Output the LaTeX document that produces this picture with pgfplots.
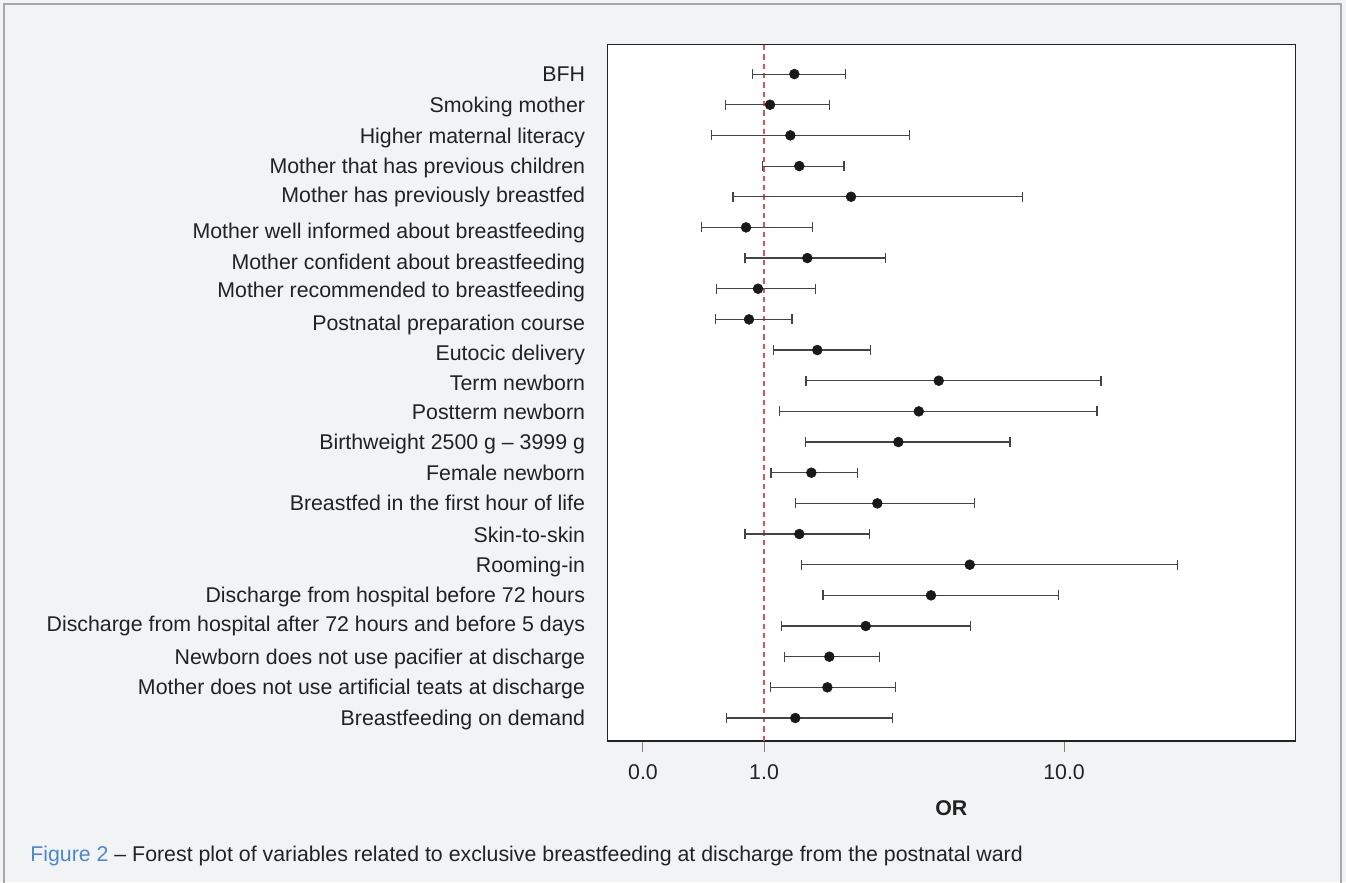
\documentclass[border=0pt]{standalone}
\usepackage{pgfplots}
\pgfplotsset{compat=1.18}
\usepackage{pgfplotstable}
\usepackage{fontspec}
\setmainfont{Liberation Sans}
\definecolor{panel}{HTML}{F2F3F5}
\definecolor{panelborder}{HTML}{A8A8A8}
\definecolor{txt}{HTML}{222222}
\definecolor{capblue}{HTML}{4A89CF}
\definecolor{refred}{HTML}{D9555A}
\definecolor{barcol}{HTML}{444444}
\newcommand{\fs}{\fontsize{16}{19}\selectfont}

\pgfplotstableread{
y    or     lo     hi
22   1.262  0.914  1.866
21   1.047  0.743  1.656
20   1.224  0.666  3.05
19   1.311  0.985  1.848
18   1.950  0.788  7.26
17   0.871  0.617  1.449
16   1.394  0.864  2.545
15   0.955  0.692  1.483
14   0.891  0.687  1.240
13   1.505  1.077  2.268
12   3.823  1.380  13.28
11   3.280  1.128  12.88
10   2.804  1.377  6.607
9    1.438  1.055  2.046
8    2.386  1.271  5.040
7    1.311  0.864  2.244
6    4.850  1.336  23.86
5    3.603  1.573  9.60
4    2.183  1.142  4.873
3    1.651  1.169  2.431
2    1.626  1.053  2.748
1    1.271  0.751  2.685
}\ortable

\begin{document}
\begin{tikzpicture}
\begin{scope}[x=0.75pt,y=-0.75pt]
\useasboundingbox (0,0) rectangle (1346,882);
\fill[panel] (0,0) rectangle (1346,882);
\draw[panelborder, line width=1.2pt] (4,4) rectangle (1341,895);
\node[anchor=base west, inner sep=0pt, font=\fs, text=txt] at (30,861.7)
  {\textcolor{capblue}{Figure 2} – Forest plot of variables related to exclusive breastfeeding at discharge from the postnatal ward};
\end{scope}
\begin{axis}[
  at={(455.475pt,-555.75pt)}, anchor=south west,
  scale only axis, width=516pt, height=522.5pt,
  xmode=log, xmin=0.3003, xmax=59.0,
  ymin=0.25, ymax=22.97,
  axis background/.style={fill=white},
  axis line style={txt, line width=1pt},
  axis x line*=bottom, axis y line*=left,
  separate axis lines,
  xtick={0.395,1,10},
  xticklabels={\mbox{0.0},\mbox{1.0},\mbox{10.0}},
  minor xtick={},
  log basis x=10,
  xtick style={draw=black!50, line width=0.75pt},
  major tick length=8.25pt,
  tick align=outside,
  xticklabel style={font=\fs, text=txt, anchor=center, inner sep=0pt, yshift=-15pt},
  ytick={22,20.99,19.98,19.0,18.05,16.88,15.87,14.96,13.88,12.90,11.92,10.98,10.0,9.0,8.01,6.97,5.99,5.01,4.07,2.99,2.01,1.0},
  yticklabels={BFH,Smoking mother,Higher maternal literacy,Mother that has previous children,Mother has previously breastfed,Mother well informed about breastfeeding,Mother confident about breastfeeding,Mother recommended to breastfeeding,Postnatal preparation course,Eutocic delivery,Term newborn,Postterm newborn,Birthweight 2500 g – 3999 g,Female newborn,Breastfed in the first hour of life,Skin-to-skin,Rooming-in,Discharge from hospital before 72 hours,Discharge from hospital after 72 hours and before 5 days,Newborn does not use pacifier at discharge,Mother does not use artificial teats at discharge,Breastfeeding on demand},
  ytick style={draw=none},
  yticklabel style={font=\fs, text=txt, anchor=base east, inner sep=0pt, xshift=-8.25pt, yshift=-5.7pt},
  xlabel={\textbf{OR}},
  xlabel style={font=\fs, text=txt, at={(axis description cs:0.5,0)}, anchor=center, yshift=-50.25pt},
  clip=false,
]
\draw[txt, line width=1pt] (rel axis cs:0,0) rectangle (rel axis cs:1,1);
\addplot[refred, line width=1.1pt, dash pattern=on 4pt off 3pt] coordinates {(1,0.25) (1,22.97)};
\addplot[only marks, mark=*, mark size=3.7pt, color=black!90,
  mark options={fill=black!90, draw=black!90},
  error bars/.cd, x dir=both, x explicit,
  error mark=|, error mark options={barcol, mark size=3.75pt, line width=0.85pt, rotate=0},
  error bar style={barcol, line width=0.85pt}]
  table[x=or, y=y, x error plus expr=\thisrow{hi}-\thisrow{or}, x error minus expr=\thisrow{or}-\thisrow{lo}] {\ortable};
\end{axis}
\end{tikzpicture}
\end{document}
